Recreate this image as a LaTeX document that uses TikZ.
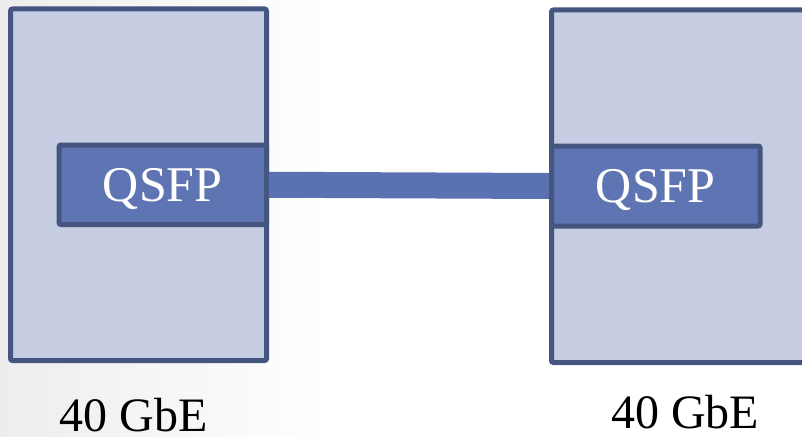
\documentclass[tikz,border=0pt]{standalone}
\usepackage{fontspec}
\setmainfont{Liberation Serif}
\definecolor{boxfill}{HTML}{C6CCE2}
\definecolor{boxline}{HTML}{44557F}
\definecolor{portfill}{HTML}{5F75B3}
\definecolor{cablecol}{HTML}{5B72B2}
\tikzset{
  chassis/.style={draw=boxline, fill=boxfill, line width=5pt, rounded corners=2pt, inner sep=0pt},
  port/.style={draw=boxline, fill=portfill, line width=5pt, rounded corners=2pt, inner sep=0pt,
    text=white, font=\fontsize{50}{60}\selectfont, text height=33pt, text depth=0pt},
  cable/.style={draw=cablecol, line width=26pt},
  speed/.style={font=\fontsize{48}{56}\selectfont, anchor=base, text=black, inner sep=0pt,
    text height=34pt, text depth=0pt}
}
\begin{document}
\begin{tikzpicture}[x=1pt,y=-1pt]
\useasboundingbox (0,0) rectangle (802,436);
\shade[left color=black!7, right color=white] (0,0) rectangle (330,436);
\node[chassis, minimum width=256pt, minimum height=351.5pt] (lbox) at (138.5,184.75) {};
\node[chassis, minimum width=278.5pt, minimum height=352.5pt] (rbox) at (690.75,186.25) {};
\node[port, minimum width=207.5pt, minimum height=79.5pt] (lq) at (162.75,184.75) {QSFP};
\node[port, minimum width=208.5pt, minimum height=80pt] (rq) at (655.75,186) {QSFP};
\draw[cable] (lq.east) -- (rq.west);
\node[speed] (ll) at (133.5,431) {40 GbE};
\node[speed] (rl) at (685,428) {40 GbE};
\end{tikzpicture}
\end{document}
